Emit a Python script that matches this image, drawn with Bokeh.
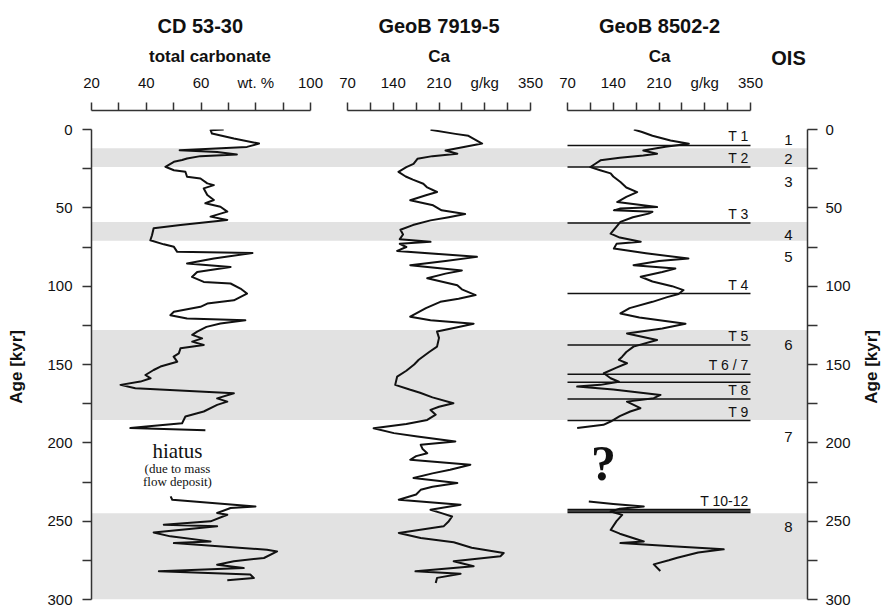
from bokeh.plotting import figure
from bokeh.models import Range1d, LinearAxis, FixedTicker, BoxAnnotation, Label
from bokeh.layouts import row, column
from bokeh.embed import file_html
from bokeh.resources import INLINE

# ---------------- data ----------------
# CD 53-30 total carbonate (wt. %), two sections separated by a hiatus
cd_age_upper = [0.0, 0.4, 2.6, 5.8, 9.0, 11.1, 13.2, 14.3, 15.9, 17.0, 18.5, 19.5, 20.6, 23.8, 26.0, 27.0,
                30.2, 31.3, 34.4, 35.5, 37.6, 41.8, 45.0, 47.1, 49.3, 52.4, 55.6, 57.7, 60.9, 63.0, 67.5,
                70.7, 73.3, 74.9, 78.1, 78.8, 82.4, 85.6, 87.7, 90.9, 94.1, 97.3, 98.3, 101.5, 104.7, 109.0,
                111.1, 113.2, 116.3, 118.5, 120.6, 121.7, 123.8, 126.0, 129.0, 131.1, 133.3, 135.4, 137.6,
                139.7, 142.9, 145.0, 148.2, 151.3, 153.5, 156.7, 158.8, 160.9, 163.0, 165.1, 168.4, 171.6,
                173.7, 175.8, 180.0, 183.2, 187.5, 189.5, 190.6, 192.0]
cd_val_upper = [68.3, 63.5, 64.0, 72.0, 81.2, 76.8, 52.2, 65.9, 73.1, 59.8, 54.9, 53.1, 50.1, 47.0, 50.1, 54.3,
                54.9, 59.8, 62.3, 64.7, 61.0, 62.3, 64.7, 61.6, 67.1, 69.6, 63.5, 69.6, 52.5, 42.7, 42.1,
                41.5, 46.4, 50.1, 51.3, 78.8, 64.7, 54.9, 70.8, 58.6, 56.7, 61.0, 70.8, 74.4, 76.8, 72.0,
                62.3, 59.8, 50.1, 48.8, 54.9, 76.2, 67.1, 62.0, 58.6, 56.8, 60.4, 56.8, 61.0,
                52.5, 51.9, 50.0, 51.3, 45.2, 42.7, 39.7, 41.6, 37.9, 30.6, 36.0, 72.0, 65.9,
                69.6, 65.9, 61.0, 54.3, 53.1, 40.0, 34.2, 61.6]
cd_age_lower = [234.2, 236.3, 240.6, 241.6, 244.8, 245.9, 250.1, 252.3, 253.3, 257.2, 259.7, 262.9,
                264.0, 268.2, 269.3, 273.5, 275.6, 277.8, 279.9, 282.0, 284.1, 286.3, 287.7]
cd_val_lower = [48.9, 49.5, 79.9, 70.8, 65.9, 69.6, 63.5, 46.4, 65.9, 42.7, 48.8, 63.5,
                50.1, 84.1, 87.8, 83.0, 72.0, 65.9, 75.6, 44.6, 78.0, 79.3, 69.6]

# GeoB 7919-5 Ca (g/kg)
g7919_age = [0.2, 2.8, 4.0, 9.0, 11.0, 13.4, 15.5, 17.0, 18.7, 21.9, 24.0, 27.0, 30.0, 32.0, 34.6, 37.0,
             39.9, 42.0, 45.2, 48.4, 51.6, 54.0, 56.0, 58.0, 61.0, 64.0, 67.0, 70.0, 71.7, 73.0, 75.0,
             77.5, 81.3, 84.0, 86.6, 90.0, 92.0, 95.0, 99.4, 102.0, 105.7, 108.0, 110.0, 114.0, 119.5,
             121.7, 124.0, 126.0, 129.0, 133.0, 138.6, 142.0, 147.0, 150.0, 154.0, 157.7, 163.0, 166.0,
             168.0, 171.0, 174.7, 177.0, 179.0, 182.0, 185.4, 188.0, 190.7, 193.8, 196.0, 199.1, 201.3,
             204.0, 206.6, 208.5, 210.8, 214.0, 217.2, 219.5, 222.5, 225.7, 228.0, 230.0, 233.0, 236.3,
             239.5, 242.7, 245.0, 247.0, 250.0, 253.3, 257.5, 260.7, 263.5, 267.0, 270.3, 272.4, 275.6,
             278.8, 282.0, 283.5, 286.2, 289.4]
g7919_val = [197, 235, 255, 276, 250, 220, 238, 200, 177, 171, 160, 148, 159, 170, 186, 192,
             207, 190, 166, 201, 214, 250, 225, 197, 170, 151, 155, 150, 197, 150, 160,
             146, 268, 220, 166, 245, 220, 192, 238, 245, 266, 240, 212, 190, 166,
             197, 263, 240, 207, 210, 207, 195, 179, 172, 160, 146, 143, 165,
             181, 200, 232, 210, 197, 205, 192, 160, 110, 141, 177, 235, 182,
             185, 192, 175, 166, 258, 227, 200, 171, 238, 200, 182, 175, 148.5,
             243, 197, 215, 230, 225, 217, 148.5, 182, 232.5, 260, 309, 304, 232.5,
             263, 174, 243, 207, 205]

# GeoB 8502-2 Ca (g/kg), two sections
g8502_age_upper = [0.0, 1.6, 4.0, 7.0, 9.1, 11.0, 13.4, 15.5, 16.6, 18.0, 19.7, 22.0, 24.0, 26.0, 28.0,
                   30.0, 33.5, 37.0, 40.0, 43.0, 46.3, 49.5, 50.5, 51.6, 52.5, 53.7, 56.0, 59.0, 62.0,
                   66.5, 69.0, 71.7, 73.0, 76.0, 79.0, 82.4, 84.0, 86.6, 88.8, 91.0, 94.0, 97.0, 100.0,
                   102.5, 105.0, 107.0, 110.0, 114.0, 117.4, 120.0, 124.0, 127.0, 130.2, 134.4, 138.6,
                   142.0, 145.0, 147.0, 149.2, 152.0, 155.6, 158.8, 161.0, 163.0, 164.1, 166.0, 169.4,
                   171.5, 173.7, 177.9, 180.0, 183.0, 186.4, 188.5, 190.6]
g8502_val_upper = [171.5, 184, 200, 227.6, 255.6, 220, 186, 207, 186, 150, 120.5, 112, 105, 120, 136,
                   140, 151, 160, 176.6, 160, 146, 207, 150, 141, 200, 194, 170, 151, 145,
                   136, 150, 182, 145, 141, 190, 255, 210, 171, 235, 215, 182, 200, 230,
                   247.5, 240, 222.5, 200, 165, 151, 180, 250.5, 215, 161, 207, 171,
                   160, 153.7, 148.6, 161, 145, 125.6, 136, 148.6, 120.5, 84.8, 140, 212.3,
                   202, 161, 181.5, 166, 150, 136, 125, 84.8]
g8502_age_lower = [237.4, 239.0, 240.6, 242.0, 243.8, 246.0, 250.0, 255.6, 258.0, 263.0, 264.0, 266.0,
                   268.0, 270.0, 273.4, 275.0, 277.6, 281.8]
g8502_val_lower = [102.6, 140, 186.7, 150, 136, 153.7, 145, 136, 150, 186.7, 151, 230,
                   309, 270, 238, 225, 202, 212]

# tie points (termination markers) in GeoB 8502-2
tie_labels = ["T 1", "T 2", "T 3", "T 4", "T 5", "T 6 / 7", "", "T 8", "T 9", "T 10-12", "", ""]
tie_ages = [10.2, 24.0, 59.7, 104.7, 137.6, 156.3, 161.3, 172.0, 185.8, 242.6, 243.5, 244.4]

# oxygen isotope stages
ois_labels = ["1", "2", "3", "4", "5", "6", "7", "8"]
ois_ages = [7.0, 19.1, 33.5, 67.5, 81.3, 137.6, 196.0, 253.7]

# glacial stage bands (kyr)
band_start = [12, 59, 128, 245]
band_end = [24, 71, 185.5, 300]

# axes
age_ticks = [0, 50, 100, 150, 200, 250, 300]
age_minor = [25, 75, 125, 175, 225, 275]
cd_ticks = [20, 40, 60, 80, 100]
cd_minor = [30, 50, 70, 90]
cd_tick_labels = ["20", "40", "60", "wt. %", "100"]
ca_ticks = [70, 140, 210, 280, 350]
ca_minor = [105, 175, 245, 315]
ca_tick_labels = ["70", "140", "210", "g/kg", "350"]

# ---------------- style ----------------
FONT = "Liberation Sans"
SERIF = "Liberation Serif"
INK = "#111111"
AXC = "#333333"
BAND = "#e2e2e2"

W = 882
SIDE_W = 28        # narrow strip holding the right-hand axis title
LEFT = 91          # left border of main frame
FRAME_W = 716      # main frame: x 91 .. 807
MAIN_W = W - SIDE_W
RIGHT = MAIN_W - LEFT - FRAME_W
AX_Y = 110         # y of the top axes
HEAD_H = 119       # height of the header row
MAIN_TOP = 10      # top border of main figure (age 0 at y = 129)
MAIN_BOT = 7
MAIN_H = 606 - HEAD_H

CD_SC = 219.0 / 80.0      # px per wt.%
CA_SC = 183.0 / 280.0     # px per g/kg
P2_X0 = 347               # pixel of 70 g/kg in panel 2
P3_X0 = 567               # pixel of 70 g/kg in panel 3
E1, E2, E3 = 328, 549, 769  # header column edges (px)


def style_axis(ax, tick_len):
    ax.axis_line_color = AXC
    ax.axis_line_width = 1.5
    ax.major_tick_line_color = AXC
    ax.minor_tick_line_color = AXC
    ax.major_tick_line_width = 1.5
    ax.minor_tick_line_width = 1.5
    ax.major_tick_out = tick_len
    ax.major_tick_in = 0
    ax.minor_tick_out = tick_len
    ax.minor_tick_in = 0
    ax.major_label_text_font = FONT
    ax.major_label_text_font_size = "15px"
    ax.major_label_text_color = INK
    ax.axis_label_text_font = FONT
    ax.axis_label_text_font_size = "17px"
    ax.axis_label_text_font_style = "bold"
    ax.axis_label_text_color = INK


def header(width, xr, title, ticks, minor, labels, name, ml=0, mr=0, hidden=False):
    p = figure(width=width, height=HEAD_H, x_range=xr, y_range=Range1d(0, 1),
               x_axis_location=None, y_axis_location=None, toolbar_location=None,
               output_backend="svg", min_border_left=ml, min_border_right=mr,
               min_border_top=AX_Y, min_border_bottom=0, outline_line_color=None)
    p.xgrid.grid_line_color = None
    p.ygrid.grid_line_color = None
    p.title.text = title
    p.title.align = "center"
    p.title.text_font = FONT
    p.title.text_font_size = "20px"
    p.title.text_font_style = "bold"
    p.title.text_color = INK
    p.title.standoff = 14
    ax = LinearAxis(ticker=FixedTicker(ticks=ticks, minor_ticks=minor),
                    bounds=(ticks[0], ticks[-1]), axis_label=name,
                    major_label_overrides={t: l for t, l in zip(ticks, labels)})
    style_axis(ax, 8)
    ax.major_label_standoff = 12
    ax.axis_label_standoff = 5
    if hidden:
        ax.axis_line_alpha = 0
        ax.major_tick_line_alpha = 0
        ax.minor_tick_line_alpha = 0
        ax.major_label_text_alpha = 0
        ax.axis_label_text_alpha = 0
    p.add_layout(ax, "above")
    return p


# ---------------- header row (titles + value axes) ----------------
h1 = header(E1, Range1d(20, 20 + (E1 - LEFT) / CD_SC), "CD 53-30", cd_ticks, cd_minor,
            cd_tick_labels, "total carbonate", ml=LEFT)
h1.title.align = "left"
h1.title.offset = 66
h2_start = 70 - (P2_X0 - E1) / CA_SC
h2 = header(E2 - E1, Range1d(h2_start, h2_start + (E2 - E1) / CA_SC), "GeoB 7919-5",
            ca_ticks, ca_minor, ca_tick_labels, "Ca")
h3_start = 70 - (P3_X0 - E2) / CA_SC
h3 = header(E3 - E2, Range1d(h3_start, h3_start + (E3 - E2) / CA_SC), "GeoB 8502-2",
            ca_ticks, ca_minor, ca_tick_labels, "Ca")
h4 = header(W - E3, Range1d(0, 1), "OIS", [0, 1], [], ["0", "1"], "Ca", mr=W - 807, hidden=True)

# ---------------- main figure ----------------
y_range = Range1d(300, 0)
main = figure(width=MAIN_W, height=MAIN_H, x_range=Range1d(0, 1), y_range=y_range,
              x_axis_location=None, y_axis_location=None, toolbar_location=None,
              output_backend="svg", min_border_left=LEFT, min_border_right=RIGHT,
              min_border_top=MAIN_TOP, min_border_bottom=MAIN_BOT, outline_line_color=None)
main.xgrid.grid_line_color = None
main.ygrid.grid_line_color = None
p2_start = 70 - (P2_X0 - LEFT) / CA_SC
p3_start = 70 - (P3_X0 - LEFT) / CA_SC
main.extra_x_ranges = {
    "cd": Range1d(20, 20 + FRAME_W / CD_SC),
    "g7919": Range1d(p2_start, p2_start + FRAME_W / CA_SC),
    "g8502": Range1d(p3_start, p3_start + FRAME_W / CA_SC),
}

for s, e in zip(band_start, band_end):
    main.add_layout(BoxAnnotation(top=s, bottom=e, fill_color=BAND, fill_alpha=1.0,
                                  line_color=None, level="underlay"))

ax_l = LinearAxis(ticker=FixedTicker(ticks=age_ticks, minor_ticks=age_minor),
                  bounds=(0, 300), axis_label="Age  [kyr]")
style_axis(ax_l, 9)
ax_l.major_label_standoff = 10
ax_l.axis_label_standoff = 18
main.add_layout(ax_l, "left")

ax_r = LinearAxis(ticker=FixedTicker(ticks=age_ticks, minor_ticks=age_minor), bounds=(0, 300))
style_axis(ax_r, 10)
ax_r.major_label_standoff = 8
main.add_layout(ax_r, "right")

# curves
main.line(cd_val_upper, cd_age_upper, x_range_name="cd", line_color=INK, line_width=2, line_join="round")
main.line(cd_val_lower, cd_age_lower, x_range_name="cd", line_color=INK, line_width=2, line_join="round")
main.line(g7919_val, g7919_age, x_range_name="g7919", line_color=INK, line_width=2, line_join="round")
main.segment(x0=[70] * len(tie_ages), x1=[350] * len(tie_ages), y0=tie_ages, y1=tie_ages,
             x_range_name="g8502", line_color=INK, line_width=1.5)
main.line(g8502_val_upper, g8502_age_upper, x_range_name="g8502", line_color=INK, line_width=2,
          line_join="round")
main.line(g8502_val_lower, g8502_age_lower, x_range_name="g8502", line_color=INK, line_width=2,
          line_join="round")

# annotations
for txt, yy, fs in (("hiatus", 205, "21px"), ("(due to mass", 216.6, "13px"), ("flow deposit)", 224.8, "13px")):
    main.add_layout(Label(x=51.4, y=yy, x_range_name="cd", text=txt, text_align="center",
                          text_baseline="middle", text_font=SERIF, text_font_size=fs, text_color=INK))
for t, a in zip(tie_labels, tie_ages):
    if t:
        main.add_layout(Label(x=347, y=a, x_range_name="g8502", text=t, text_align="right",
                              text_baseline="bottom", y_offset=1, text_font=FONT,
                              text_font_size="14px", text_color=INK))
main.add_layout(Label(x=125, y=212.7, x_range_name="g8502", text="?", text_align="center",
                      text_baseline="middle", text_font=SERIF, text_font_size="50px",
                      text_font_style="bold", text_color=INK))
for t, a in zip(ois_labels, ois_ages):
    main.add_layout(Label(x=(788 - LEFT) / FRAME_W, y=a, text=t, text_align="center",
                          text_baseline="middle", text_font=FONT, text_font_size="15px",
                          text_color=INK))

# ---------------- side strip: right-hand "Age [kyr]" title (reads bottom-to-top) ----------------
side = figure(width=SIDE_W, height=MAIN_H, x_range=Range1d(0, 1), y_range=y_range,
              x_axis_location=None, y_axis_location=None, toolbar_location=None,
              output_backend="svg", min_border_left=SIDE_W - 2, min_border_right=0,
              min_border_top=MAIN_TOP, min_border_bottom=MAIN_BOT, outline_line_color=None)
side.xgrid.grid_line_color = None
side.ygrid.grid_line_color = None
ax_s = LinearAxis(ticker=FixedTicker(ticks=[]), bounds=(0, 300), axis_label="Age  [kyr]")
style_axis(ax_s, 0)
ax_s.axis_line_color = None
ax_s.axis_label_standoff = 0
side.add_layout(ax_s, "left")

layout = column(row(h1, h2, h3, h4), row(main, side))
open("out.html", "w").write(file_html(layout, INLINE))
